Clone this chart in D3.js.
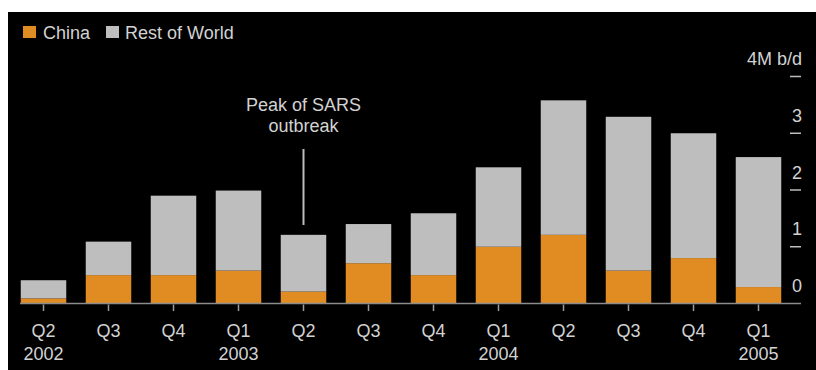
<!DOCTYPE html>
<html>
<head>
<meta charset="utf-8">
<script src="https://cdn.jsdelivr.net/npm/d3@7"></script>
<style>
  html, body { margin: 0; padding: 0; background: #ffffff; }
  svg { display: block; }
  text { font-family: "Liberation Sans", Arial, sans-serif; }
</style>
</head>
<body>
<svg id="chart" width="816" height="370"></svg>
<script>
// ---- data ----
const periods = ["2002Q2","2002Q3","2002Q4","2003Q1","2003Q2","2003Q3","2003Q4","2004Q1","2004Q2","2004Q3","2004Q4","2005Q1"];
const quarterLabels = ["Q2","Q3","Q4","Q1","Q2","Q3","Q4","Q1","Q2","Q3","Q4","Q1"];
const yearLabels = ["2002","","","2003","","","","2004","","","","2005"];
const china = [0.09, 0.50, 0.50, 0.58, 0.21, 0.71, 0.50, 1.00, 1.21, 0.58, 0.80, 0.29];
const restOfWorld = [0.32, 0.59, 1.40, 1.41, 1.00, 0.69, 1.09, 1.40, 2.37, 2.71, 2.20, 2.29];
const yTicks = [0, 1, 2, 3, 4];
const yTickLabels = ["0", "1", "2", "3", "4M b/d"];
const seriesNames = ["China", "Rest of World"];
const annotation = { period: "2003Q2", lines: ["Peak of SARS", "outbreak"] };

// ---- styles ----
const colors = { "China": "#e08c22", "Rest of World": "#bebebe" };
const textColor = "#d2d2d2";

const svg = d3.select("#chart");
svg.append("rect").attr("x", 8).attr("y", 12).attr("width", 808).attr("height", 358).attr("fill", "#000");

const x = d3.scaleBand().domain(periods).range([11, 791]).paddingInner(0.3).paddingOuter(0.15);
const y = d3.scaleLinear().domain([0, 4]).range([303.5, 76.5]);

const table = periods.map((p, i) => ({ period: p, "China": china[i], "Rest of World": restOfWorld[i] }));
const stacked = d3.stack().keys(seriesNames)(table);

// bars
svg.append("g").selectAll("g").data(stacked).join("g")
  .attr("fill", d => colors[d.key])
  .selectAll("rect").data(d => d).join("rect")
  .attr("x", d => x(d.data.period))
  .attr("width", x.bandwidth())
  .attr("y", d => y(d[1]))
  .attr("height", d => y(d[0]) - y(d[1]));

// baseline
svg.append("line")
  .attr("x1", 20).attr("x2", 801)
  .attr("y1", y(0)).attr("y2", y(0))
  .attr("stroke", "#8c8c8c").attr("stroke-width", 1.5);

// x ticks and labels
const xg = svg.append("g");
periods.forEach((p, i) => {
  const cx = x(p) + x.bandwidth() / 2;
  xg.append("line").attr("x1", cx).attr("x2", cx).attr("y1", y(0) + 1).attr("y2", 311)
    .attr("stroke", "#9a9a9a").attr("stroke-width", 1.5);
  xg.append("text").attr("x", cx).attr("y", 337).attr("text-anchor", "middle")
    .attr("font-size", 18).attr("fill", textColor).text(quarterLabels[i]);
  if (yearLabels[i]) {
    xg.append("text").attr("x", cx).attr("y", 360).attr("text-anchor", "middle")
      .attr("font-size", 18).attr("fill", textColor).text(yearLabels[i]);
  }
});

// y ticks (right side)
const yg = svg.append("g");
yTicks.forEach((v, i) => {
  if (v !== 0) {
    yg.append("line").attr("x1", 790).attr("x2", 801).attr("y1", y(v)).attr("y2", y(v))
      .attr("stroke", "#bdbdbd").attr("stroke-width", 1.5);
  }
  yg.append("text").attr("x", 802).attr("y", y(v) - 11.5).attr("text-anchor", "end")
    .attr("font-size", 18).attr("fill", textColor).text(yTickLabels[i]);
});

// annotation
const ax = x(annotation.period) + x.bandwidth() / 2;
annotation.lines.forEach((t, i) => {
  svg.append("text").attr("x", ax).attr("y", 111 + i * 21).attr("text-anchor", "middle")
    .attr("font-size", 18).attr("fill", textColor).text(t);
});
svg.append("line").attr("x1", ax).attr("x2", ax).attr("y1", 149).attr("y2", 225)
  .attr("stroke", "#bdbdbd").attr("stroke-width", 2);

// legend
const legendPos = [{ sx: 23, tx: 43 }, { sx: 106, tx: 125 }];
seriesNames.forEach((s, i) => {
  svg.append("rect").attr("x", legendPos[i].sx).attr("y", 26).attr("width", 13).attr("height", 12)
    .attr("fill", colors[s]);
  svg.append("text").attr("x", legendPos[i].tx).attr("y", 38.5)
    .attr("font-size", 18).attr("fill", textColor).text(s);
});
</script>
</body>
</html>
